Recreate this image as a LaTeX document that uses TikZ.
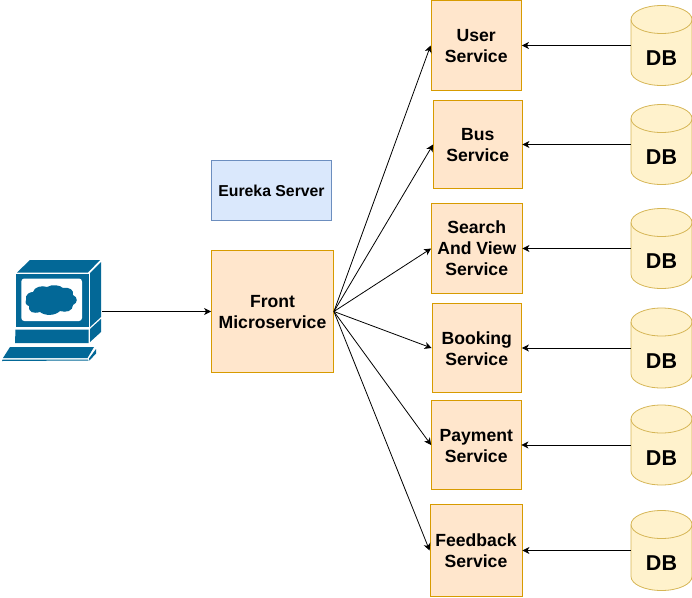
\documentclass[tikz,border=0pt]{standalone}
\usepackage{fontspec}
\setmainfont{Liberation Sans}
\usetikzlibrary{arrows.meta}
\definecolor{svcfill}{HTML}{FFE6CC}
\definecolor{svcline}{HTML}{D79B00}
\definecolor{eufill}{HTML}{DAE8FC}
\definecolor{euline}{HTML}{6C8EBF}
\definecolor{dbfill}{HTML}{FFF2CC}
\definecolor{dbline}{HTML}{D6B656}
\definecolor{pcblue}{HTML}{036897}
\tikzset{
  x=1pt,y=-1pt,
  svc/.style={draw=svcline,fill=svcfill,line width=0.8pt,inner sep=0pt},
  svctext/.style={align=center,inner sep=0pt,font=\fontsize{17.6}{21}\selectfont\bfseries},
  eu/.style={draw=euline,fill=eufill,line width=0.8pt,align=center,inner sep=0pt,font=\fontsize{15.8}{18}\selectfont\bfseries},
  dbbody/.style={draw=dbline,fill=dbfill,line width=0.8pt},
  dbrim/.style={draw=dbline,line width=0.8pt},
  dbarea/.style={inner sep=0pt,minimum width=61pt,minimum height=80pt},
  dbtext/.style={inner sep=0pt,font=\fontsize{21.5}{24}\selectfont\bfseries},
  link/.style={draw=black,line width=0.8pt,-{Stealth[length=7pt,width=7pt,inset=2pt]}},
  pc/.style={fill=pcblue,draw=none}
}
% name, left, top, right, bottom, text, text drop
\newcommand{\svcbox}[7]{\node[svc,minimum width=#4 pt-#2 pt,minimum height=#5 pt-#3 pt,
  label={[svctext,yshift=-#7pt]center:{#6}}] (#1) at ({(#2+#4)/2},{(#3+#5)/2}) {};}
% name, top
\newcommand{\dbcan}[2]{%
  \path[dbbody] (631,#2+14) arc[start angle=180,end angle=0,x radius=30.5,y radius=-14]
    -- (692,#2+66) arc[start angle=0,end angle=-180,x radius=30.5,y radius=-14] -- cycle;
  \path[dbrim] (631,#2+14) arc[start angle=180,end angle=360,x radius=30.5,y radius=-14];
  \node[dbarea] (#1) at (661.5,#2+40) {};
  \node[dbtext] (#1-label) at (661.5,#2+53) {DB};}
\begin{document}
\begin{tikzpicture}
\useasboundingbox (0,0) rectangle (692,597);
% computer
\fill[pc] (30,260) -- (100,260) -- (88,272.5) -- (17,272.5) -- cycle;
\fill[pc] (101,262) -- (101,317) -- (90,327) -- (90,273) -- cycle;
\fill[pc] (16,274) rectangle (88.5,327);
\fill[white,rounded corners=3pt] (21.3,278.5) rectangle (82,321);
\fill[pc] (26,300) .. controls (25,294) and (30,292) .. (33,292)
  .. controls (34,287) and (42,285) .. (47,287)
  .. controls (52,284) and (60,285) .. (63,288)
  .. controls (70,287) and (74,290) .. (73,295)
  .. controls (78,297) and (78,303) .. (73,305)
  .. controls (73,311) and (66,313) .. (60,311)
  .. controls (55,316) and (45,316) .. (40,312)
  .. controls (33,314) and (28,312) .. (29,306)
  .. controls (26,305) and (25,303) .. (26,300) -- cycle;
\fill[pc] (15.5,329.5) -- (88.5,329.5) -- (88.5,343) -- (15,343) -- cycle;
\fill[pc] (90,329) -- (101,319) -- (101,332) -- (90,342) -- cycle;
\fill[pc] (10,347) -- (94,347) -- (87.5,358) -- (3,358) -- cycle;
\fill[pc] (2.5,359.5) -- (88,359.5) -- (88.5,360.5) -- (2,361) -- cycle;
\fill[pc] (96,349) -- (96,353.5) -- (89.5,360.5) -- (89,358.5) -- cycle;
\coordinate (pcport) at (102,311.5);
% boxes
\svcbox{user}{431}{0.5}{521.5}{90.5}{User\\Service}{1}
\svcbox{bus}{433.5}{100.5}{522}{188.5}{Bus\\Service}{1}
\svcbox{search}{431.5}{203.5}{522}{293.5}{Search\\And View\\Service}{0}
\svcbox{booking}{432}{303.5}{521.5}{392.5}{Booking\\Service}{1}
\svcbox{payment}{431.5}{400.5}{521}{489.5}{Payment\\Service}{1}
\svcbox{feedback}{430}{504.5}{522}{596.5}{Feedback\\Service}{0}
\svcbox{front}{211.5}{250.5}{333.5}{372.5}{Front\\Microservice}{1}
\node[eu,minimum width=120pt,minimum height=60pt] (eureka) at (271.5,190.5) {Eureka Server};
% databases
\dbcan{db1}{5.5}
\dbcan{db2}{104.5}
\dbcan{db3}{208.5}
\dbcan{db4}{308}
\dbcan{db5}{405}
\dbcan{db6}{510.5}
% connectors
\draw[link] (pcport) -- (front.west);
\foreach \t in {user,bus,search,booking,payment,feedback}
  \draw[link] (front.east) -- (\t.west);
\draw[link] (db1.west) -- (user.east);
\draw[link] (db2.west) -- (bus.east);
\draw[link] (db3.west) -- (search.east);
\draw[link] (db4.west) -- (booking.east);
\draw[link] (db5.west) -- (payment.east);
\draw[link] (db6.west) -- (feedback.east);
\end{tikzpicture}
\end{document}
